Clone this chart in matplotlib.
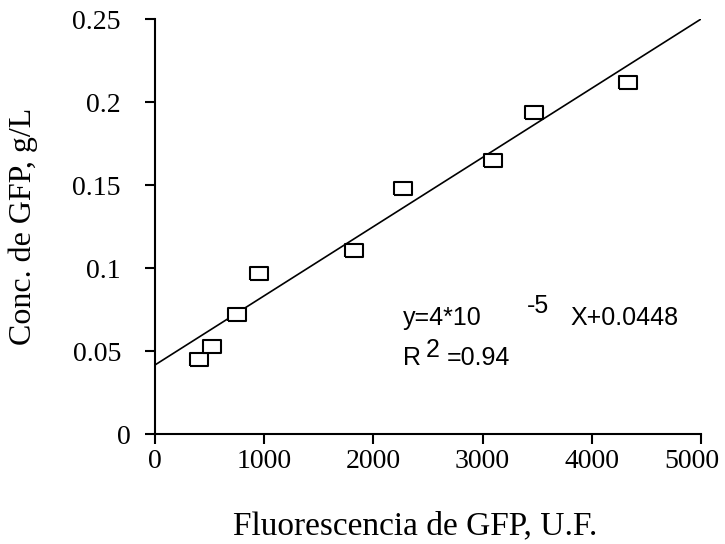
import matplotlib
matplotlib.use("Agg")
from matplotlib import pyplot as plt
from matplotlib.transforms import ScaledTranslation

# measured points
fluor = [400, 520, 750, 950, 1820, 2270, 3095, 3475, 4335]
conc = [0.045, 0.053, 0.072, 0.097, 0.111, 0.148, 0.165, 0.194, 0.212]

# fitted line as drawn
line_x = [0, 5000]
line_y = [0.0416, 0.25]

x_ticks = [0, 1000, 2000, 3000, 4000, 5000]
y_ticks = [0, 0.05, 0.1, 0.15, 0.2, 0.25]
y_tick_labels = ['0', '0.05', '0.1', '0.15', '0.2', '0.25']

plt.rcParams['font.family'] = 'Liberation Serif'

fig = plt.figure(figsize=(7.25, 5.44), dpi=100)
ax = fig.add_axes([0.2138, 0.2022, 0.7531, 0.7628])

# rectangle marker, wider than tall
rect = [(-1, -0.72), (1, -0.72), (1, 0.72), (-1, 0.72), (-1, -0.72)]

ax.plot(line_x, line_y, color='black', linewidth=1.2)
ax.plot(fluor, conc, linestyle='none', marker=rect, markersize=13,
        markerfacecolor='white', markeredgecolor='black', markeredgewidth=1.5)

ax.set_xlim(0, 5000)
ax.set_ylim(0, 0.25)
ax.set_xticks(x_ticks)
ax.set_yticks(y_ticks)
ax.set_yticklabels(y_tick_labels)

for side in ['top', 'right']:
    ax.spines[side].set_visible(False)
for side in ['left', 'bottom']:
    ax.spines[side].set_linewidth(1.5)
ax.tick_params(axis='both', direction='out', length=7.5, width=1.5, labelsize=20)
ax.tick_params(axis='y', pad=17)
ax.tick_params(axis='x', pad=3)

# the "0" label sits a bit further right, like in the original
lbl0 = ax.get_yticklabels()[0]
lbl0.set_transform(lbl0.get_transform() + ScaledTranslation(10 / 100, 0, fig.dpi_scale_trans))
# last x label pulled in so it stays on the picture
lbl_last = ax.get_xticklabels()[-1]
lbl_last.set_transform(lbl_last.get_transform() + ScaledTranslation(-9 / 100, 0, fig.dpi_scale_trans))

ax.set_xlabel('Fluorescencia de GFP, U.F.', fontsize=24)
ax.set_ylabel('Conc. de GFP, g/L', fontsize=23)
ax.xaxis.set_label_coords(0.476, -0.186)
ax.yaxis.set_label_coords(-0.214, 0.5)

sans = 'Liberation Sans'
fs = 18
ax.text(2271, 0.0657, 'y=4*10', family=sans, fontsize=fs, va='baseline')
ax.text(3407, 0.0729, '-5', family=sans, fontsize=fs, va='baseline')
ax.text(3800, 0.0657, 'X+0.0448', family=sans, fontsize=fs, va='baseline')
ax.text(2271, 0.0416, 'R', family=sans, fontsize=fs, va='baseline')
ax.text(2482, 0.0464, '2', family=sans, fontsize=fs, va='baseline')
ax.text(2674, 0.0416, '=0.94', family=sans, fontsize=fs, va='baseline')

fig.savefig('out.png', dpi=100)
